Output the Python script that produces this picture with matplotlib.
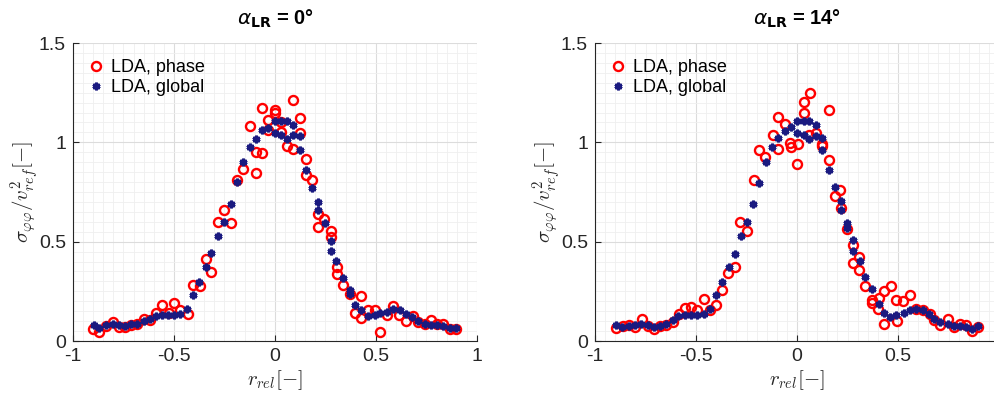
import matplotlib.pyplot as plt
from matplotlib.ticker import MultipleLocator

plt.rcParams['font.family'] = ['Liberation Sans', 'DejaVu Sans']

# alpha_LR = 0 deg, LDA phase averaged
x_phase_0 = [-0.902, -0.869, -0.836, -0.803, -0.770, -0.742, -0.712, -0.683, -0.650, -0.621,
             -0.588, -0.559, -0.527, -0.498, -0.468, -0.431, -0.407, -0.372, -0.340, -0.316,
             -0.283, -0.250, -0.217, -0.187, -0.157, -0.126, -0.096, -0.096, -0.063, -0.063,
             -0.035, -0.035, 0.000, 0.000, 0.031, 0.031, 0.061, 0.089, 0.089, 0.122,
             0.122, 0.152, 0.152, 0.183, 0.213, 0.213, 0.243, 0.276, 0.276, 0.309,
             0.309, 0.337, 0.370, 0.395, 0.428, 0.428, 0.461, 0.494, 0.522, 0.552,
             0.585, 0.615, 0.648, 0.681, 0.709, 0.742, 0.770, 0.800, 0.833, 0.866,
             0.896]
y_phase_0 = [0.062, 0.045, 0.074, 0.096, 0.071, 0.071, 0.079, 0.084, 0.113, 0.108,
             0.141, 0.180, 0.141, 0.189, 0.158, 0.135, 0.281, 0.276, 0.411, 0.348,
             0.601, 0.657, 0.593, 0.808, 0.867, 1.081, 0.951, 0.845, 0.946, 1.173,
             1.111, 1.061, 1.162, 1.148, 1.101, 1.051, 0.980, 1.215, 0.966, 1.123,
             1.047, 0.916, 0.835, 0.808, 0.640, 0.576, 0.614, 0.556, 0.525, 0.374,
             0.337, 0.281, 0.239, 0.141, 0.226, 0.118, 0.155, 0.158, 0.045, 0.130,
             0.175, 0.130, 0.101, 0.125, 0.096, 0.084, 0.104, 0.088, 0.084, 0.062,
             0.062]

# alpha_LR = 0 deg, LDA global
x_global_0 = [-0.898, -0.869, -0.836, -0.803, -0.770, -0.745, -0.712, -0.683, -0.650, -0.621,
              -0.588, -0.560, -0.531, -0.501, -0.468, -0.435, -0.407, -0.374, -0.340, -0.316,
              -0.283, -0.250, -0.220, -0.190, -0.157, -0.126, -0.096, -0.064, -0.035, 0.000,
              0.000, 0.028, 0.028, 0.061, 0.061, 0.089, 0.089, 0.122, 0.122, 0.152,
              0.183, 0.213, 0.213, 0.246, 0.276, 0.276, 0.304, 0.337, 0.370, 0.370,
              0.395, 0.428, 0.461, 0.494, 0.522, 0.552, 0.585, 0.618, 0.648, 0.676,
              0.709, 0.742, 0.770, 0.800, 0.833, 0.866, 0.896]
y_global_0 = [0.079, 0.067, 0.079, 0.084, 0.079, 0.074, 0.084, 0.088, 0.101, 0.113,
              0.125, 0.130, 0.130, 0.130, 0.138, 0.163, 0.234, 0.298, 0.374, 0.441,
              0.529, 0.601, 0.690, 0.798, 0.899, 0.975, 1.019, 1.061, 1.072, 1.106,
              1.047, 1.109, 1.039, 1.109, 1.017, 1.089, 1.039, 1.030, 0.963, 0.862,
              0.769, 0.702, 0.657, 0.593, 0.505, 0.455, 0.404, 0.315, 0.259, 0.236,
              0.180, 0.155, 0.125, 0.130, 0.141, 0.146, 0.163, 0.155, 0.138, 0.121,
              0.101, 0.088, 0.079, 0.079, 0.074, 0.067, 0.067]

# alpha_LR = 14 deg, LDA phase averaged
x_phase_14 = [-0.896, -0.863, -0.833, -0.800, -0.767, -0.738, -0.710, -0.677, -0.649, -0.616,
              -0.586, -0.553, -0.523, -0.495, -0.462, -0.429, -0.401, -0.371, -0.342, -0.309,
              -0.281, -0.248, -0.215, -0.186, -0.157, -0.120, -0.094, -0.094, -0.061, -0.033,
              -0.028, 0.005, 0.000, 0.033, 0.033, 0.066, 0.061, 0.094, 0.124, 0.124,
              0.157, 0.157, 0.186, 0.215, 0.216, 0.248, 0.276, 0.276, 0.309, 0.309,
              0.338, 0.371, 0.371, 0.404, 0.399, 0.432, 0.465, 0.432, 0.492, 0.495,
              0.525, 0.558, 0.591, 0.624, 0.657, 0.680, 0.710, 0.746, 0.776, 0.805,
              0.838, 0.866, 0.894]
y_phase_14 = [0.066, 0.074, 0.079, 0.071, 0.111, 0.074, 0.062, 0.074, 0.079, 0.096,
              0.135, 0.168, 0.172, 0.158, 0.209, 0.155, 0.180, 0.259, 0.343, 0.374,
              0.599, 0.556, 0.808, 0.963, 0.924, 1.035, 1.128, 0.966, 1.093, 0.997,
              0.976, 0.992, 0.892, 1.204, 1.148, 1.249, 1.039, 1.045, 0.993, 0.980,
              1.165, 0.909, 0.731, 0.758, 0.668, 0.562, 0.483, 0.391, 0.424, 0.357,
              0.276, 0.205, 0.189, 0.214, 0.163, 0.253, 0.276, 0.084, 0.205, 0.101,
              0.202, 0.231, 0.163, 0.155, 0.138, 0.104, 0.079, 0.113, 0.071, 0.084,
              0.079, 0.051, 0.071]

# alpha_LR = 14 deg, LDA global
x_global_14 = [-0.896, -0.866, -0.833, -0.804, -0.771, -0.738, -0.710, -0.677, -0.649, -0.616,
               -0.587, -0.554, -0.525, -0.495, -0.462, -0.429, -0.401, -0.371, -0.338, -0.309,
               -0.279, -0.249, -0.216, -0.186, -0.153, -0.124, -0.094, -0.061, -0.031, 0.000,
               0.000, 0.033, 0.033, 0.061, 0.061, 0.094, 0.094, 0.124, 0.124, 0.157,
               0.186, 0.216, 0.216, 0.249, 0.249, 0.279, 0.279, 0.312, 0.338, 0.371,
               0.404, 0.432, 0.462, 0.492, 0.528, 0.561, 0.591, 0.624, 0.652, 0.680,
               0.710, 0.746, 0.776, 0.809, 0.838, 0.866, 0.894]
y_global_14 = [0.079, 0.071, 0.074, 0.079, 0.084, 0.079, 0.071, 0.074, 0.084, 0.104,
               0.126, 0.130, 0.130, 0.130, 0.135, 0.163, 0.231, 0.298, 0.374, 0.438,
               0.529, 0.601, 0.690, 0.795, 0.899, 0.976, 1.020, 1.057, 1.077, 1.106,
               1.047, 1.109, 1.035, 1.106, 1.017, 1.089, 1.034, 1.022, 0.963, 0.862,
               0.774, 0.705, 0.660, 0.593, 0.567, 0.508, 0.455, 0.404, 0.320, 0.264,
               0.185, 0.141, 0.121, 0.130, 0.141, 0.155, 0.163, 0.155, 0.138, 0.113,
               0.096, 0.088, 0.074, 0.074, 0.071, 0.062, 0.074]

x_ticks = [-1, -0.5, 0, 0.5, 1]
x_tick_labels = ['-1', '-0.5', '0', '0.5', '1']
# right panel is cropped at x = 1 in the original, so its last label is not shown
x_tick_labels_cut = ['-1', '-0.5', '0', '0.5', '']
y_ticks = [0, 0.5, 1, 1.5]
y_tick_labels = ['0', '0.5', '1', '1.5']

red = '#ff0000'
navy = '#1a1a80'
axis_col = '#262626'


def draw_panel(ax, x_phase, y_phase, x_global, y_global, angle, xlabels):
	ax.plot(x_phase, y_phase, linestyle='none', marker='o', ms=6.5, mew=1.7,
			mfc='none', mec=red, label='LDA, phase', zorder=3)
	ax.plot(x_global, y_global, linestyle='none', marker=(6, 2, 0), ms=5.5, mew=2.0,
			color=navy, label='LDA, global', zorder=4)

	ax.set_xlim(-1, 1)
	ax.set_ylim(0, 1.5)
	ax.set_xticks(x_ticks)
	ax.set_xticklabels(xlabels)
	ax.set_yticks(y_ticks)
	ax.set_yticklabels(y_tick_labels)
	ax.xaxis.set_minor_locator(MultipleLocator(0.05))
	ax.yaxis.set_minor_locator(MultipleLocator(0.05))

	ax.grid(True, which='major', color='#dcdcdc', linewidth=0.8)
	ax.grid(True, which='minor', color='#efefef', linewidth=0.6)
	ax.set_axisbelow(True)

	for side in ['top', 'right']:
		ax.spines[side].set_visible(False)
	for side in ['left', 'bottom']:
		ax.spines[side].set_color(axis_col)
		ax.spines[side].set_linewidth(0.8)
	ax.tick_params(which='major', direction='in', length=4, width=0.8,
				   colors=axis_col, labelsize=14, pad=5)
	ax.tick_params(which='minor', length=0)

	ax.set_xlabel(r'$r_{rel}[-]$', fontsize=15, math_fontfamily='cm', labelpad=2, color=axis_col)
	ax.set_ylabel(r'$\sigma_{\varphi\varphi}/v_{ref}^2[-]$', fontsize=15,
				  math_fontfamily='cm', color=axis_col)
	# label sits a bit closer to the axis than the tick labels would allow
	ax.yaxis.set_label_coords(-0.078, 0.5)
	ax.set_title(r'$\alpha_{\mathbf{LR}}$ = ' + angle + '°', fontsize=14.5,
				 fontweight='bold', pad=13)

	ax.legend(loc='upper left', frameon=False, fontsize=13, handlelength=0.8,
			  handletextpad=0.4, labelspacing=0.15, borderaxespad=0.5,
			  borderpad=0.4)


fig = plt.figure(figsize=(9.95, 3.94), dpi=100)
ax1 = fig.add_axes([73 / 995, 53 / 394, 404 / 995, 298 / 394])
ax2 = fig.add_axes([595 / 995, 53 / 394, 404 / 995, 298 / 394])

draw_panel(ax1, x_phase_0, y_phase_0, x_global_0, y_global_0, '0', x_tick_labels)
draw_panel(ax2, x_phase_14, y_phase_14, x_global_14, y_global_14, '14', x_tick_labels_cut)

fig.savefig('out.png', dpi=100)
